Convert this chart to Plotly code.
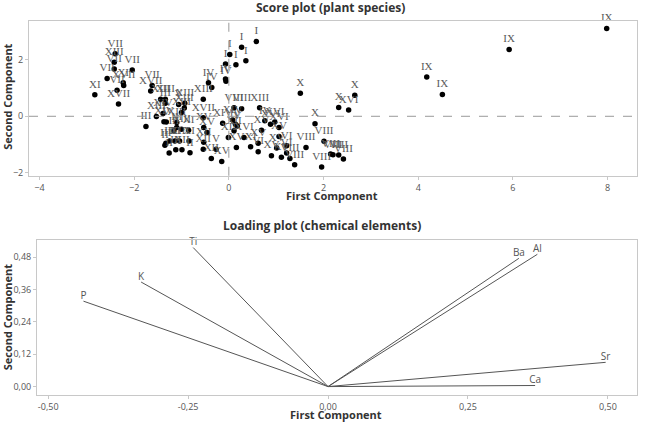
import plotly.graph_objects as go

# ---------------- Score plot data (first / second component) ----------------
score_x = [-2.83, -2.40, -2.42, -2.42, -2.57, -2.23, -2.22, -2.36, -2.33, -2.04,
           -1.62, -1.65, -1.44, -1.34, -1.34, -1.06, -0.93, -0.94, -1.53, -1.39,
           -1.75, -1.37, -1.32, -1.00, -1.10, -1.10, -1.00, -1.16, -0.85, -1.35,
           -1.33, -1.25, -1.14, -1.04, -0.84, -1.26, -1.12, -0.99, -0.82,
           -0.54, -0.43, -0.36, -0.54, -0.53, -0.46, -0.53, -0.54, -0.37, -0.27, -0.15,
           0.58, 0.27, 0.02, 0.36, 0.15, -0.07, -0.07, -0.06,
           0.11, 0.27, 0.65, -0.13, 0.08, 0.14, 0.18, -0.01, 0.11, 0.16, 0.32, 0.46,
           0.62, 0.62, 0.76, 0.69, 0.88, 0.97, 1.06, 1.06, 1.01, 1.22, 0.90, 1.11,
           1.22, 1.29, 1.39, 1.63,
           1.51, 2.66, 2.32, 2.53, 1.82, 2.01, 2.15, 2.20, 2.32, 2.42, 1.96,
           4.18, 4.51, 5.92, 7.98]
score_y = [0.76, 2.21, 1.91, 1.67, 1.33, 1.18, 1.09, 0.92, 0.43, 1.63,
           1.09, 0.89, 0.60, 0.60, 0.46, 0.42, 0.46, 0.29, -0.01, 0.10,
           -0.36, -0.19, -0.20, 0.13, -0.22, -0.40, -0.46, -0.51, -0.49, -1.02,
           -0.95, -0.87, -0.87, -0.87, -0.87, -1.30, -1.18, -1.18, -1.29,
           0.60, 1.18, 1.02, -0.05, -0.40, -0.57, -0.92, -1.16, -1.49, -1.16, -1.60,
           2.64, 2.44, 2.18, 1.96, 1.82, 1.85, 1.32, 1.24,
           0.30, 0.27, 0.30, -0.25, -0.13, -0.28, -0.34, -0.75, -0.51, -1.10, -0.75, -1.08,
           -0.95, -1.25, -0.16, -0.49, -0.28, -0.20, -0.40, -0.71, -1.12, -1.04, -1.39, -1.45,
           -1.30, -1.49, -1.71, -1.10,
           0.81, 0.74, 0.31, 0.22, -0.26, -0.88, -1.33, -1.36, -1.37, -1.51, -1.79,
           1.39, 0.77, 2.36, 3.10]
score_labels = ["XI", "VII", "XIII", "VII", "VII", "XI", "XVII", "VII", "XVII", "VII",
                "VII", "XVII", "XIII", "XIII", "III", "V", "XIII", "XIII", "XIII", "XIV",
                "III", "XIV", "V", "XIII", "XIII", "III", "XIII", "III", "XI", "II",
                "III", "III", "III", "XIII", "XI", "II", "III", "XII", "II",
                "XIII", "IV", "IV", "XVII", "XV", "XV", "XII", "XII", "XII", "V", "XV",
                "I", "I", "I", "I", "I", "I", "IV", "IV",
                "VIII", "VIII", "XIII", "XIV", "XIV", "IV", "V", "XII", "XII", "XV", "XVI", "XI",
                "XV", "VI", "IV", "XV", "XVI", "XVI", "XVI", "XV", "XV", "VI", "XV", "XV",
                "VI", "VIII", "VIII", "VIII",
                "X", "X", "X", "XVI", "X", "VIII", "VIII", "VIII", "VIII", "VIII", "VIII",
                "IX", "IX", "IX", "IX"]
score_xticks = [-4, -2, 0, 2, 4, 6, 8]
score_yticks = [-2, 0, 2]

# ---------------- Loading plot data ----------------
elements = ["P", "K", "Ti", "Ba", "Al", "Sr", "Ca"]
load_x = [-0.437, -0.334, -0.241, 0.341, 0.374, 0.496, 0.370]
load_y = [0.317, 0.388, 0.516, 0.476, 0.491, 0.090, 0.004]
load_xticks = [-0.50, -0.25, 0.00, 0.25, 0.50]
load_xticklabels = ["-0,50", "-0,25", "0,00", "0,25", "0,50"]
load_yticks = [0.00, 0.12, 0.24, 0.36, 0.48]
load_yticklabels = ["0,00", "0,12", "0,24", "0,36", "0,48"]

W, H = 656, 427
FRAME = "#c8c8c8"
TICKC = "#555555"
SANS = "Open Sans"

fig = go.Figure()

fig.add_trace(go.Scatter(
    x=score_x, y=score_y, text=score_labels, mode="markers+text",
    textposition="top center",
    textfont=dict(family="Liberation Serif", size=11, color="#5a5a5a"),
    marker=dict(color="black", size=5.5),
    xaxis="x", yaxis="y", cliponaxis=False, showlegend=False))

# loading vectors
lx, ly = [], []
for a, b in zip(load_x, load_y):
    lx += [0, a, None]
    ly += [0, b, None]
fig.add_trace(go.Scatter(
    x=lx, y=ly, mode="lines", line=dict(color="#555555", width=1),
    xaxis="x2", yaxis="y2", showlegend=False, hoverinfo="skip"))
fig.add_trace(go.Scatter(
    x=load_x, y=load_y, text=elements, mode="text", textposition="top center",
    textfont=dict(family=SANS, size=10, color="#555555"),
    xaxis="x2", yaxis="y2", cliponaxis=False, showlegend=False))

axis_common = dict(showgrid=False, zeroline=False, showline=True, linecolor=FRAME,
                   linewidth=1, mirror=True, ticks="outside", ticklen=3,
                   tickcolor=FRAME, tickfont=dict(family=SANS, size=9, color=TICKC))

fig.update_layout(
    width=W, height=H, margin=dict(l=0, r=0, t=0, b=0),
    paper_bgcolor="white", plot_bgcolor="white",
    xaxis=dict(domain=[29 / W, 637 / W], range=[-4.22, 8.62], tickvals=score_xticks,
               anchor="y", **axis_common),
    yaxis=dict(domain=[1 - 177 / H, 1 - 21 / H], range=[-2.1, 3.37], tickvals=score_yticks,
               anchor="x", **axis_common),
    xaxis2=dict(domain=[37 / W, 637 / W], range=[-0.52, 0.552], tickvals=load_xticks,
                ticktext=load_xticklabels, anchor="y2", **axis_common),
    yaxis2=dict(domain=[1 - 398 / H, 1 - 241.7 / H], range=[-0.032, 0.544],
                tickvals=load_yticks, ticktext=load_yticklabels, anchor="x2", **axis_common),
    shapes=[
        dict(type="line", xref="x domain", yref="y", x0=0, x1=1, y0=0, y1=0,
             line=dict(color="#9a9a9a", width=1, dash="dash")),
        dict(type="line", xref="x", yref="y domain", x0=0, x1=0, y0=0, y1=1,
             line=dict(color="#9a9a9a", width=1, dash="dash")),
    ],
)

def ann(text, x, y, size, angle=0):
    fig.add_annotation(text=text, x=x / W, y=1 - y / H, xref="paper", yref="paper",
                       showarrow=False, textangle=angle, xanchor="center", yanchor="middle",
                       font=dict(family=SANS, size=size, color="#333333"))

ann("<b>Score plot (plant species)</b>", 330, 7.5, 12)
ann("<b>First Component</b>", 332, 197, 11)
ann("<b>Second Component</b>", 7.5, 98, 11, -90)
ann("<b>Loading plot (chemical elements)</b>", 322, 227, 12)
ann("<b>First Component</b>", 336, 417, 11)
ann("<b>Second Component</b>", 7.5, 320, 11, -90)

fig.write_html("out.html")
